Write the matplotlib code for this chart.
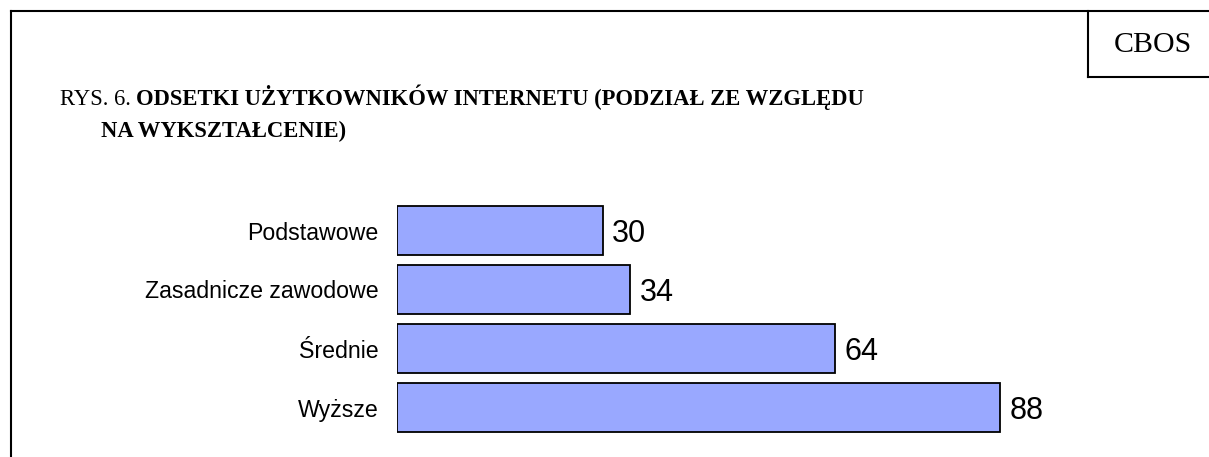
import matplotlib
matplotlib.use("Agg")
import matplotlib.pyplot as plt
from matplotlib.lines import Line2D

categories = ["Podstawowe", "Zasadnicze zawodowe", "Średnie", "Wyższe"]
values = [30, 34, 64, 88]
title_prefix = "RYS. 6. "
title_line1 = "ODSETKI UŻYTKOWNIKÓW INTERNETU (PODZIAŁ ZE WZGLĘDU"
title_line2 = "NA WYKSZTAŁCENIE)"
badge = "CBOS"

W, H = 1209, 457
fig = plt.figure(figsize=(W / 100, H / 100), dpi=100)

def fx(px):
    return px / W

def fy(py):
    return 1 - py / H

# frame lines
lw = 1.5
fig.add_artist(Line2D([fx(11), fx(11)], [fy(11), fy(460)], color="black", lw=lw))
fig.add_artist(Line2D([fx(11), fx(1212)], [fy(11), fy(11)], color="black", lw=lw))
fig.add_artist(Line2D([fx(1088), fx(1088)], [fy(11), fy(77)], color="black", lw=lw))
fig.add_artist(Line2D([fx(1088), fx(1212)], [fy(77), fy(77)], color="black", lw=lw))

fig.text(fx(1153), fy(52), badge, ha="center", va="baseline",
         family="Liberation Serif", fontsize=21.5)

# title
t1 = fig.text(fx(60), fy(105), title_prefix, ha="left", va="baseline",
              family="Liberation Serif", fontsize=16.3)
fig.canvas.draw()
bb = t1.get_window_extent()
fig.text(bb.x1 / W, fy(105), title_line1, ha="left", va="baseline",
         family="Liberation Serif", fontsize=16.3, fontweight="bold")
fig.text(fx(101), fy(137), title_line2, ha="left", va="baseline",
         family="Liberation Serif", fontsize=16.3, fontweight="bold")

# axes
ax = fig.add_axes([fx(397), fy(437), 685 / W, 236 / H])
y = list(range(len(categories)))
ax.barh(y, values, height=0.83, color="#99A8FF", edgecolor="black", linewidth=1.3)
ax.set_xlim(0, 100)
ax.set_ylim(3.5, -0.5)
ax.set_yticks(y)
ax.set_yticklabels(categories, family="Liberation Sans", fontsize=16.7)
ax.tick_params(axis="y", length=0, pad=13.5)
ax.set_xticks([])
for s in ax.spines.values():
    s.set_visible(False)
for yi, v in zip(y, values):
    ax.text(v + 1.4, yi, str(v), va="center_baseline", ha="left",
            family="Liberation Sans", fontsize=22)

fig.savefig("out.png", dpi=100)
